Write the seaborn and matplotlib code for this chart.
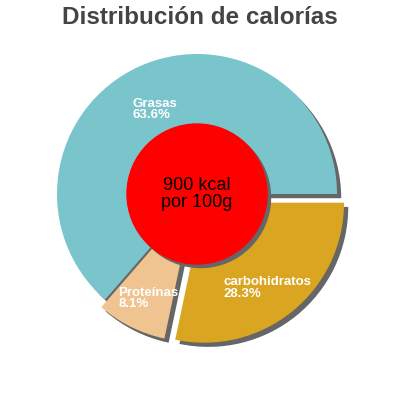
import numpy as np
import matplotlib
matplotlib.use("Agg")
import matplotlib.pyplot as plt
import seaborn as sns
from matplotlib.patches import Circle

sns.set_theme(style="white")
plt.rcParams['font.family'] = ['Liberation Sans', 'DejaVu Sans']

categories = ["Grasas", "Proteínas", "carbohidratos"]
values = [63.6, 8.1, 28.3]
colors = ["#7ac4cc", "#efc490", "#daa520"]
explode = [0, 0.06, 0.08]
center_text = "900 kcal\npor 100g"
title = "Distribución de calorías"

fig = plt.figure(figsize=(4, 4), dpi=100)
lim = 1.25
size = 0.35 * lim * 2
ax = fig.add_axes([0.4925 - size / 2, 0.515 - size / 2, size, size])

# shadow pie, then the real one on top
ax.pie(values, colors=["#666666"] * len(values), explode=explode, startangle=0,
       center=(0.03, -0.03), wedgeprops={'linewidth': 0})
wedges, _ = ax.pie(values, colors=colors, explode=explode, startangle=0,
                   wedgeprops={'linewidth': 0})

for w, cat, v in zip(wedges, categories, values):
    mid = np.deg2rad((w.theta1 + w.theta2) / 2)
    cx, cy = w.center
    r = 0.72
    ax.text(cx + r * np.cos(mid), cy + r * np.sin(mid) - 0.05, f"{cat}\n{v}%",
            ha="center", va="center", multialignment="left",
            color="white", fontsize=9.5, fontweight="bold", linespacing=0.9,
            zorder=6)

ax.add_patch(Circle((0.025, -0.025), 0.5, color="#666666", zorder=3))
ax.add_patch(Circle((0, 0), 0.5, color="#ff0000", zorder=4))
ax.text(0, 0, center_text, ha="center", va="center", fontsize=13,
        color="black", zorder=5, linespacing=1.0)

ax.set_xlim(-lim, lim)
ax.set_ylim(-lim, lim)
ax.set_aspect("equal")
ax.axis("off")

fig.text(0.5, 0.955, title, ha="center", va="center", fontsize=17.5,
         fontweight="bold", color="#444444")

fig.savefig("out.png", dpi=100, facecolor="white")
